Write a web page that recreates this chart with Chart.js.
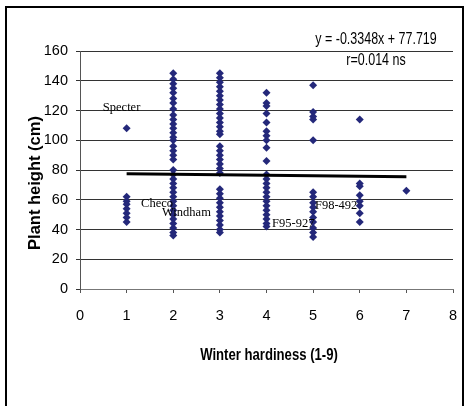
<!DOCTYPE html>
<html>
<head>
<meta charset="utf-8">
<script src="https://cdn.jsdelivr.net/npm/chart.js@4/dist/chart.umd.min.js"></script>
<style>
body{margin:0;background:#fff;}
</style>
</head>
<body>
<canvas id="chart" width="468" height="406"></canvas>
<script>
// winter hardiness score (1-9) -> plant heights (cm) of the lines with that score
var hardiness = [1, 2, 3, 4, 5, 6, 7];
var heightsAt1 = [108, 62, 59, 57, 54, 51, 48, 45];
var heightsAt2 = [145, 141, 138, 135, 132, 128, 125, 121, 117, 114, 111, 108, 105, 102, 100, 96, 93, 90, 87,
                  80, 77, 74, 71, 68, 65, 62, 59, 56, 53, 50, 47, 44, 41, 38, 36];
var heightsAt3 = [145, 142, 139, 136, 133, 130, 127, 124, 121, 118, 115, 112, 109, 106, 104,
                  96, 93, 90, 87, 84, 81, 78, 67, 64, 61, 58, 55, 52, 49, 46, 43, 40, 38];
var heightsAt4 = [132, 125, 123, 118, 112, 106, 103, 100, 95, 86,
                  77, 74, 71, 68, 65, 62, 59, 56, 53, 50, 47, 44, 42];
var heightsAt5 = [137, 119, 116, 114, 100, 65, 62, 58, 55, 52, 48, 45, 41, 38, 35];
var heightsAt6 = [114, 71, 69, 63, 59, 56, 51, 45];
var heightsAt7 = [66];

// regression line end points
var trendX = [1, 7];
var trendY = [77.4, 75.4];

var xTitle = "Winter hardiness (1-9)";
var yTitle = "Plant height (cm)";
var fitText = ["y = -0.3348x + 77.719", "r=0.014 ns"];
var cultivars = ["Specter", "Checo", "Windham", "F95-927", "F98-492"];

var heightsByScore = [heightsAt1, heightsAt2, heightsAt3, heightsAt4, heightsAt5, heightsAt6, heightsAt7];
var points = [];
hardiness.forEach(function(h, i) {
  heightsByScore[i].forEach(function(v) { points.push({x: h, y: v}); });
});
var trendPts = trendX.map(function(x, i) { return {x: x, y: trendY[i]}; });

var sans = "'Liberation Sans', Arial, sans-serif";

// where each cultivar name sits, in axis units (left edge, middle)
var cultivarAt = {
  "Specter": [0.49, 122], "Checo": [1.31, 57], "Windham": [1.76, 51],
  "F95-927": [4.12, 44], "F98-492": [5.04, 56]
};

// the original used a narrow face; squeeze the text horizontally
function squeezed(c, text, x, y, sx) {
  c.save();
  c.translate(x, y);
  c.scale(sx, 1);
  c.fillText(text, 0, 0);
  c.restore();
}

var extras = {
  id: 'extras',
  beforeDraw: function(chart) {
    var c = chart.ctx;
    c.save();
    c.fillStyle = '#fff';
    c.fillRect(0, 0, chart.width, chart.height);
    c.restore();
  },
  afterDraw: function(chart) {
    var c = chart.ctx, xs = chart.scales.x, ys = chart.scales.y;
    c.save();
    // frame
    c.strokeStyle = '#000';
    c.lineWidth = 2;
    c.beginPath();
    c.moveTo(6, 406); c.lineTo(6, 7); c.lineTo(463, 7); c.lineTo(463, 406);
    c.stroke();

    c.fillStyle = '#000';
    c.textAlign = 'center';
    c.textBaseline = 'middle';
    // axis titles
    c.font = "bold 16px " + sans;
    squeezed(c, xTitle, 269, 356, 0.82);
    c.save();
    c.translate(35, 183);
    c.rotate(-Math.PI / 2);
    c.font = "bold 16.5px " + sans;
    c.fillText(yTitle, 0, 0);
    c.restore();

    // regression text
    c.font = "16px " + sans;
    squeezed(c, fitText[0], 376, 40, 0.78);
    squeezed(c, fitText[1], 376, 61, 0.78);

    // cultivar names
    c.font = "12.5px 'Liberation Serif', 'Times New Roman', serif";
    c.textAlign = 'left';
    cultivars.forEach(function(n) {
      var p = cultivarAt[n];
      c.fillText(n, xs.getPixelForValue(p[0]), ys.getPixelForValue(p[1]));
    });
    c.restore();
  }
};

new Chart(document.getElementById('chart'), {
  type: 'scatter',
  data: {
    datasets: [{
      type: 'line',
      data: trendPts,
      borderColor: '#000',
      borderWidth: 3,
      pointRadius: 0,
      fill: false,
      order: 0
    }, {
      data: points,
      pointStyle: 'rectRot',
      pointRadius: 4,
      pointBackgroundColor: '#24287a',
      pointBorderColor: '#24287a',
      pointBorderWidth: 0,
      order: 1
    }]
  },
  options: {
    responsive: false,
    animation: false,
    layout: {padding: {left: 0, right: 15, top: 51, bottom: 0}},
    plugins: {legend: {display: false}, tooltip: {enabled: false}},
    scales: {
      x: {
        type: 'linear', min: 0, max: 8,
        ticks: {stepSize: 1, color: '#000', padding: 14, font: {family: sans, size: 14.5}},
        grid: {drawOnChartArea: false, drawTicks: true, tickLength: 4, color: '#555'},
        border: {color: '#777', width: 1},
        afterFit: function(s) { s.height = 117; s.paddingLeft = 0; s.paddingRight = 0; }
      },
      y: {
        min: 0, max: 160,
        ticks: {stepSize: 20, color: '#000', padding: 8, font: {family: sans, size: 14.5}},
        grid: {color: '#333', tickLength: 4, lineWidth: 1},
        border: {color: '#555', width: 1},
        afterFit: function(s) { s.width = 80; s.paddingTop = 0; s.paddingBottom = 0; }
      }
    }
  },
  plugins: [extras]
});
</script>
</body>
</html>
